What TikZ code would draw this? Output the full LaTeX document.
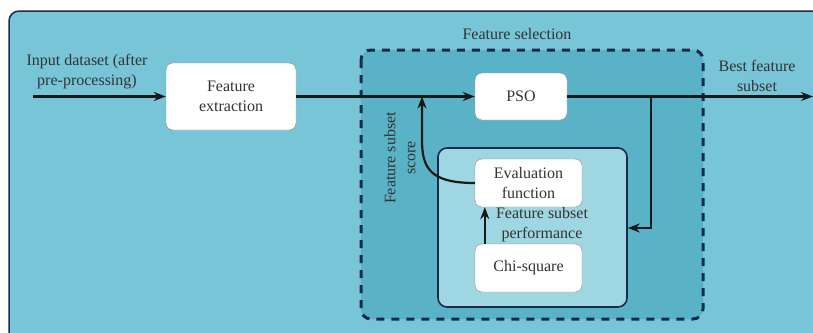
\documentclass[tikz,border=0pt]{standalone}
\usepackage{fontspec}
\setmainfont{Liberation Serif}
\usetikzlibrary{arrows.meta,shapes}
\usetikzlibrary{positioning}
\usetikzlibrary{calc}
\definecolor{navy}{HTML}{1B2A4A}
\definecolor{outerblue}{HTML}{77C5D7}
\definecolor{selblue}{HTML}{5AB2C6}
\definecolor{innerblue}{HTML}{9ED6E2}
\tikzstyle{block}=[rectangle,rounded corners=7pt,fill=white,draw=black!45,thin,align=center,inner sep=0pt]
\tikzstyle{label}=[align=center,text=black!80]
\tikzstyle{edge} = [draw,line width=2.2pt,-{Stealth[length=12pt,width=9pt]},black!90]

\begin{document}
\begin{tikzpicture}[x=1pt,y=-1pt,font=\fontsize{16}{20}\selectfont]
    \useasboundingbox (0,0) rectangle (813,332);

    % frames: the outer panel runs off the right and bottom edges
    \fill[outerblue] (9,340) -- (9,21) arc[start angle=180,end angle=90,radius=10pt] -- (820,11) -- (820,340) -- cycle;
    \draw[navy,line width=1.5pt] (9,340) -- (9,21) arc[start angle=180,end angle=90,radius=10pt] -- (820,11);
    \draw[fill=selblue,draw=navy,line width=3pt,dash pattern=on 8pt off 7pt,rounded corners=10pt] (361,50) rectangle (703,319);
    \node[draw=navy,line width=1.6pt,fill=innerblue,rounded corners=9pt,minimum width=189pt,minimum height=159pt,inner sep=0pt] (inner) at (532.5,227.5) {};

    % boxes
    \foreach \pos/\name/\w/\h/\txt in {{(231,96.5)/fext/130/67/Feature\\extraction}, {(521,96.5)/pso/92/47/PSO},
        {(528.5,183)/evalf/107/48/Evaluation\\function}, {(528.5,268)/chisq/107/48/Chi-square}}
        \node[block,text=black!80,minimum width=\w pt,minimum height=\h pt] (\name) at \pos {\txt};

    % labels
    \node[label] (inlbl) at (87,72) {Input dataset (after\\pre-processing)};
    \node[label] (outlbl) at (757,76) {Best feature\\subset};
    \node[label] (sellbl) at (517,34) {Feature selection};
    \node[label,rotate=90] (scorelbl) at (400,158) {Feature subset\\score};
    \node[label] (perflbl) at (542,225) {Feature subset\\performance};

    \coordinate (instart) at (33,96.5);
    \coordinate (outend) at (813,96.5);
    \coordinate (split) at (651,96.5);
    \coordinate (merge) at (422,96.5);

    % connectors
    \path[edge] (instart) -- (fext.west);
    \path[edge] (fext.east) -- (pso.west);
    \path[edge] (pso.east) -- (outend);
    \path[edge] (split) |- (inner.east |- 0,228);
    \path[edge] (chisq.north west) ++(10,0) coordinate (chiup) -- (chiup |- evalf.south);
    \path[edge] (evalf.west) .. controls (430,183) and (422,168) .. (422,140) -- (merge);

\end{tikzpicture}
\end{document}
